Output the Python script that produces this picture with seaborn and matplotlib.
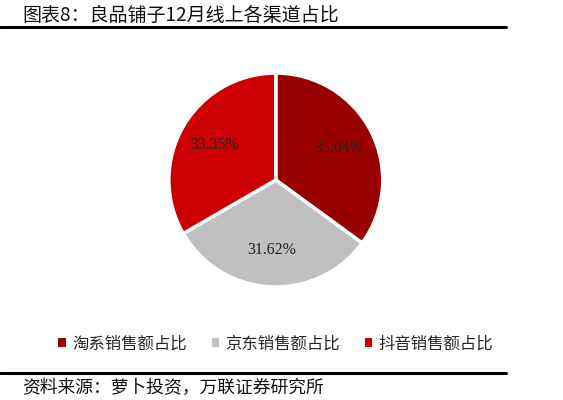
import matplotlib
matplotlib.use("Agg")
from matplotlib import pyplot as plt
from matplotlib.lines import Line2D
from matplotlib.patches import Patch
import seaborn as sns

# data
channels = ['淘系销售额占比', '京东销售额占比', '抖音销售额占比']
shares = [35.04, 31.62, 33.35]
colors = ['#990000', '#C0C0C0', '#CC0000']

title = '图表8：良品铺子12月线上各渠道占比'
source = '资料来源：萝卜投资，万联证券研究所'

sns.set_theme(style='white')
plt.rcParams['font.family'] = ['Noto Sans CJK SC', 'DejaVu Sans']

fig = plt.figure(figsize=(5.63, 4.0), dpi=100)
ax = fig.add_axes([0.298, 0.28, 0.3837, 0.54])

wedges, texts, autotexts = ax.pie(
    shares, colors=colors, startangle=90, counterclock=False,
    autopct=lambda p: f'{p:.2f}%', pctdistance=0.66,
    wedgeprops=dict(edgecolor='white', linewidth=2.5),
    textprops=dict(fontsize=11.5, color='#222222', family=['Liberation Serif']))
ax.set_xlim(-1.01, 1.01)
ax.set_ylim(-1.01, 1.01)
ax.set_aspect('equal')

# title and rules
fig.text(0.039, 0.962, title, fontsize=13.7, ha='left', va='center', color='#111111')
fig.add_artist(Line2D([0, 0.898], [0.932, 0.932], color='black', linewidth=2.2))
fig.add_artist(Line2D([0, 0.898], [0.068, 0.068], color='black', linewidth=2.2))
fig.text(0.039, 0.03, source, fontsize=12.8, ha='left', va='center',
         style='italic', color='#111111')

handles = [Patch(facecolor=c, edgecolor='none') for c in colors]
fig.legend(handles, channels, loc='center', bbox_to_anchor=(0.49, 0.14),
           ncol=3, frameon=False, fontsize=11.8, handlelength=0.45,
           handleheight=0.45, handletextpad=0.4, columnspacing=1.5)

fig.savefig('out.png', dpi=100, facecolor='white')
